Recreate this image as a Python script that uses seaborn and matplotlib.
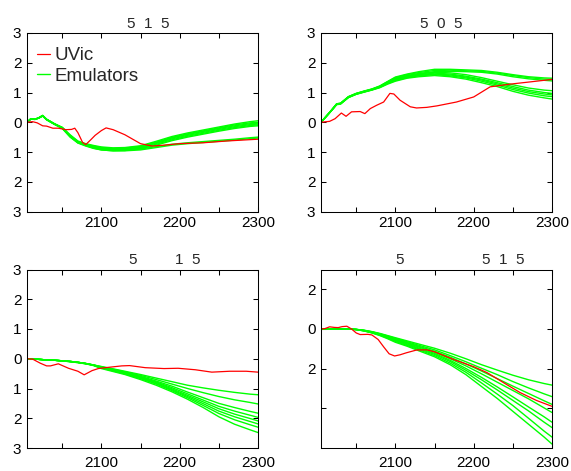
import matplotlib
matplotlib.use("Agg")
import matplotlib.pyplot as plt
import numpy as np
import pandas as pd
import seaborn as sns

# ---------------- data ----------------
YEARS = [2005, 2010, 2015, 2020, 2025, 2030, 2040, 2050, 2060, 2070, 2080, 2090,
         2100, 2115, 2130, 2150, 2170, 2190, 2210, 2230, 2250, 2270, 2290, 2300]

EMU1 = [
    [0, 0.12, 0.1, 0.15, 0.23, 0.1, -0.05, -0.17, -0.42, -0.63, -0.72, -0.78, -0.83, -0.86, -0.85, -0.79, -0.64, -0.48, -0.36, -0.26, -0.16, -0.06, 0.02, 0.05],
    [0, 0.12, 0.1, 0.15, 0.23, 0.1, -0.05, -0.18, -0.44, -0.65, -0.74, -0.8, -0.85, -0.88, -0.87, -0.81, -0.67, -0.51, -0.39, -0.29, -0.19, -0.09, -0.02, 0.0],
    [0, 0.12, 0.1, 0.15, 0.22, 0.1, -0.06, -0.18, -0.46, -0.67, -0.76, -0.82, -0.87, -0.9, -0.89, -0.83, -0.69, -0.53, -0.41, -0.31, -0.21, -0.12, -0.05, -0.03],
    [0, 0.11, 0.1, 0.14, 0.22, 0.09, -0.06, -0.19, -0.47, -0.68, -0.77, -0.84, -0.89, -0.92, -0.91, -0.85, -0.71, -0.56, -0.44, -0.34, -0.24, -0.15, -0.08, -0.06],
    [0, 0.11, 0.1, 0.14, 0.21, 0.09, -0.07, -0.2, -0.48, -0.69, -0.78, -0.86, -0.91, -0.94, -0.93, -0.87, -0.74, -0.59, -0.47, -0.37, -0.27, -0.18, -0.11, -0.09],
    [0, 0.11, 0.09, 0.14, 0.21, 0.08, -0.07, -0.21, -0.5, -0.7, -0.8, -0.88, -0.93, -0.96, -0.95, -0.89, -0.77, -0.62, -0.5, -0.4, -0.3, -0.21, -0.14, -0.12],
    [0, 0.12, 0.1, 0.15, 0.22, 0.1, -0.05, -0.18, -0.45, -0.66, -0.76, -0.84, -0.9, -0.93, -0.93, -0.9, -0.82, -0.74, -0.69, -0.65, -0.61, -0.57, -0.52, -0.5],
    [0, 0.11, 0.1, 0.14, 0.21, 0.09, -0.06, -0.2, -0.47, -0.68, -0.78, -0.87, -0.93, -0.96, -0.96, -0.93, -0.85, -0.77, -0.72, -0.68, -0.64, -0.6, -0.55, -0.53],
]

EMU2 = [
    [0, 0.15, 0.3, 0.46, 0.62, 0.64, 0.86, 0.97, 1.05, 1.12, 1.22, 1.37, 1.52, 1.62, 1.7, 1.78, 1.78, 1.76, 1.74, 1.68, 1.6, 1.53, 1.49, 1.48],
    [0, 0.15, 0.3, 0.46, 0.62, 0.64, 0.86, 0.97, 1.04, 1.11, 1.21, 1.36, 1.5, 1.6, 1.67, 1.74, 1.75, 1.73, 1.71, 1.65, 1.57, 1.5, 1.45, 1.44],
    [0, 0.15, 0.3, 0.45, 0.61, 0.63, 0.85, 0.96, 1.04, 1.11, 1.2, 1.35, 1.48, 1.57, 1.64, 1.7, 1.71, 1.7, 1.68, 1.62, 1.53, 1.46, 1.41, 1.39],
    [0, 0.15, 0.3, 0.45, 0.61, 0.63, 0.85, 0.96, 1.03, 1.1, 1.19, 1.33, 1.46, 1.56, 1.62, 1.68, 1.66, 1.6, 1.5, 1.38, 1.26, 1.15, 1.08, 1.06],
    [0, 0.15, 0.29, 0.45, 0.6, 0.63, 0.84, 0.95, 1.03, 1.1, 1.19, 1.32, 1.44, 1.54, 1.6, 1.65, 1.62, 1.55, 1.45, 1.33, 1.2, 1.08, 1.0, 0.97],
    [0, 0.15, 0.29, 0.44, 0.6, 0.62, 0.84, 0.95, 1.02, 1.09, 1.18, 1.31, 1.42, 1.52, 1.58, 1.62, 1.59, 1.52, 1.42, 1.29, 1.15, 1.03, 0.95, 0.92],
    [0, 0.14, 0.29, 0.44, 0.6, 0.62, 0.83, 0.94, 1.02, 1.09, 1.17, 1.3, 1.4, 1.5, 1.56, 1.6, 1.56, 1.49, 1.38, 1.25, 1.1, 0.98, 0.89, 0.86],
    [0, 0.14, 0.29, 0.44, 0.59, 0.61, 0.83, 0.94, 1.01, 1.08, 1.16, 1.28, 1.38, 1.48, 1.53, 1.57, 1.53, 1.45, 1.33, 1.2, 1.04, 0.91, 0.82, 0.78],
]

EMU3 = [
    [0, 0, -0.01, -0.02, -0.03, -0.04, -0.05, -0.07, -0.09, -0.12, -0.16, -0.21, -0.26, -0.34, -0.42, -0.53, -0.65, -0.77, -0.89, -0.98, -1.06, -1.13, -1.19, -1.21],
    [0, 0, -0.01, -0.02, -0.03, -0.04, -0.05, -0.07, -0.09, -0.12, -0.16, -0.21, -0.27, -0.35, -0.44, -0.56, -0.7, -0.85, -1.0, -1.14, -1.27, -1.38, -1.47, -1.52],
    [0, 0, -0.01, -0.02, -0.03, -0.04, -0.05, -0.07, -0.09, -0.12, -0.16, -0.21, -0.28, -0.37, -0.46, -0.59, -0.75, -0.92, -1.12, -1.31, -1.5, -1.64, -1.77, -1.83],
    [0, 0, -0.01, -0.02, -0.03, -0.04, -0.05, -0.07, -0.09, -0.12, -0.16, -0.21, -0.29, -0.38, -0.47, -0.61, -0.78, -0.97, -1.18, -1.39, -1.6, -1.76, -1.9, -1.97],
    [0, 0, -0.01, -0.02, -0.03, -0.04, -0.05, -0.07, -0.09, -0.12, -0.16, -0.22, -0.3, -0.39, -0.49, -0.63, -0.8, -1.01, -1.23, -1.45, -1.68, -1.86, -2.01, -2.09],
    [0, 0, -0.01, -0.02, -0.03, -0.04, -0.05, -0.07, -0.09, -0.12, -0.16, -0.22, -0.3, -0.4, -0.5, -0.65, -0.83, -1.04, -1.27, -1.51, -1.76, -1.95, -2.11, -2.19],
    [0, 0, -0.01, -0.02, -0.03, -0.04, -0.05, -0.07, -0.1, -0.13, -0.17, -0.22, -0.31, -0.41, -0.51, -0.67, -0.85, -1.07, -1.31, -1.57, -1.84, -2.05, -2.22, -2.3],
    [0, 0, -0.01, -0.02, -0.03, -0.04, -0.05, -0.07, -0.1, -0.13, -0.17, -0.23, -0.33, -0.43, -0.53, -0.7, -0.89, -1.11, -1.36, -1.64, -1.95, -2.2, -2.39, -2.48],
]

EMU4 = [
    [0, 0, 0, 0, 0, 0, 0, -0.02, -0.06, -0.13, -0.22, -0.33, -0.44, -0.6, -0.76, -0.97, -1.22, -1.5, -1.8, -2.07, -2.33, -2.56, -2.75, -2.83],
    [0, 0, 0, 0, 0, 0, 0, -0.02, -0.07, -0.14, -0.24, -0.35, -0.47, -0.64, -0.82, -1.05, -1.34, -1.65, -1.98, -2.3, -2.65, -2.97, -3.27, -3.41],
    [0, 0, 0, 0, 0, 0, 0, -0.02, -0.07, -0.15, -0.25, -0.37, -0.5, -0.68, -0.87, -1.12, -1.42, -1.76, -2.12, -2.5, -2.88, -3.25, -3.62, -3.8],
    [0, 0, 0, 0, 0, 0, 0, -0.02, -0.08, -0.16, -0.26, -0.39, -0.53, -0.71, -0.91, -1.17, -1.5, -1.86, -2.26, -2.68, -3.1, -3.52, -3.98, -4.21],
    [0, 0, 0, 0, 0, 0, 0, -0.03, -0.08, -0.17, -0.28, -0.41, -0.56, -0.75, -0.96, -1.23, -1.58, -1.99, -2.44, -2.92, -3.42, -3.93, -4.43, -4.7],
    [0, 0, 0, 0, 0, 0, 0, -0.03, -0.09, -0.18, -0.29, -0.43, -0.59, -0.79, -1.0, -1.28, -1.64, -2.08, -2.56, -3.07, -3.6, -4.13, -4.7, -4.97],
    [0, 0, 0, 0, 0, 0, 0, -0.03, -0.09, -0.19, -0.31, -0.46, -0.63, -0.83, -1.05, -1.34, -1.72, -2.18, -2.72, -3.28, -3.86, -4.5, -5.15, -5.45],
    [0, 0, 0, 0, 0, 0, 0, -0.03, -0.1, -0.2, -0.33, -0.49, -0.67, -0.87, -1.1, -1.4, -1.8, -2.3, -2.9, -3.5, -4.15, -4.8, -5.45, -5.8],
]

UVIC1_YEARS = [2005, 2012, 2018, 2025, 2030, 2038, 2045, 2055, 2062, 2066, 2070, 2076, 2080, 2086,
               2092, 2100, 2106, 2115, 2130, 2150, 2165, 2180, 2200, 2230, 2260, 2280, 2300]
UVIC1 = [0, 0.02, -0.02, -0.12, -0.13, -0.2, -0.2, -0.25, -0.24, -0.2, -0.35, -0.68, -0.75, -0.6,
         -0.44, -0.28, -0.19, -0.25, -0.42, -0.72, -0.8, -0.77, -0.72, -0.69, -0.63, -0.6, -0.57]

UVIC2_YEARS = [2005, 2016, 2023, 2031, 2037, 2044, 2055, 2061, 2068, 2076, 2085, 2093, 2098, 2106,
               2119, 2127, 2140, 2153, 2178, 2200, 2221, 2246, 2270, 2300]
UVIC2 = [0, 0.03, 0.12, 0.31, 0.2, 0.35, 0.36, 0.29, 0.46, 0.57, 0.68, 0.97, 0.95, 0.74,
         0.52, 0.48, 0.5, 0.55, 0.68, 0.85, 1.19, 1.28, 1.35, 1.44]

UVIC3_YEARS = [2005, 2012, 2022, 2030, 2035, 2045, 2058, 2070, 2078, 2088, 2096, 2105, 2126, 2136,
               2156, 2180, 2198, 2220, 2241, 2264, 2285, 2300]
UVIC3 = [0, -0.01, -0.15, -0.24, -0.24, -0.17, -0.32, -0.42, -0.54, -0.4, -0.33, -0.3, -0.24, -0.23,
         -0.3, -0.33, -0.32, -0.37, -0.45, -0.42, -0.42, -0.45]

UVIC4_YEARS = [2005, 2010, 2016, 2022, 2027, 2032, 2038, 2044, 2050, 2055, 2065, 2070, 2078, 2085,
               2092, 2099, 2106, 2114, 2127, 2140, 2150, 2175, 2200, 2217, 2240, 2259, 2280, 2300]
UVIC4 = [0, 0.02, 0.11, 0.08, 0.07, 0.12, 0.14, 0.0, -0.2, -0.28, -0.27, -0.3, -0.53, -0.9,
         -1.25, -1.36, -1.3, -1.2, -1.06, -1.05, -1.15, -1.55, -1.9, -2.2, -2.75, -3.2, -3.6, -3.9]

XTICKS = [2050, 2100, 2150, 2200, 2250, 2300]
XTICKLABELS = ["", "2100", "", "2200", "", "2300"]
YTICKS_A = [-3, -2, -1, 0, 1, 2, 3]
YTICKLABELS_A = ["3", "2", "1", "0", "1", "2", "3"]
YTICKS_B = [-4, -2, 0, 2]
YTICKLABELS_B = ["", "2", "0", "2"]

TITLES = [
    [("5  1  5", 0.526)],
    [("5  0  5", 0.519)],
    [("5", 0.459), ("1  5", 0.695)],
    [("5", 0.340), ("5  1  5", 0.790)],
]
LEGEND_LABELS = ["UVic", "Emulators"]

RED = "#ff0000"
GREEN = "#00ff00"

# ---------------- plot ----------------
sns.set_style("ticks")
plt.rcParams["font.family"] = ["Liberation Sans", "DejaVu Sans"]
plt.rcParams["font.size"] = 11

fig, axes = plt.subplots(2, 2, figsize=(5.71, 4.71), dpi=100)
fig.subplots_adjust(left=27 / 571, right=552 / 571, top=1 - 33 / 471, bottom=1 - 448 / 471,
                    wspace=63 / 231, hspace=58 / 178.5)

panels = [
    (EMU1, UVIC1_YEARS, UVIC1, (-3, 3), YTICKS_A, YTICKLABELS_A),
    (EMU2, UVIC2_YEARS, UVIC2, (-3, 3), YTICKS_A, YTICKLABELS_A),
    (EMU3, UVIC3_YEARS, UVIC3, (-3, 3), YTICKS_A, YTICKLABELS_A),
    (EMU4, UVIC4_YEARS, UVIC4, (-6, 3), YTICKS_B, YTICKLABELS_B),
]

for i, (ax, (emu, ry, rv, ylim, yt, ytl)) in enumerate(zip(axes.flat, panels)):
    rows = []
    for k, run in enumerate(emu):
        for yr, v in zip(YEARS, run):
            rows.append({"year": yr, "value": v, "run": k})
    df = pd.DataFrame(rows)
    sns.lineplot(data=df, x="year", y="value", units="run", estimator=None,
                 color=GREEN, lw=1.0, ax=ax, legend=False)
    green_handle = ax.lines[0]
    sns.lineplot(x=ry, y=rv, color=RED, lw=0.9, ax=ax, legend=False)
    red_handle = ax.lines[-1]

    ax.set_xlim(2005, 2300)
    ax.set_ylim(*ylim)
    ax.set_xticks(XTICKS)
    ax.set_xticklabels(XTICKLABELS)
    ax.set_yticks(yt)
    ax.set_yticklabels(ytl)
    ax.set_xlabel("")
    ax.set_ylabel("")
    for s in ax.spines.values():
        s.set_visible(True)
        s.set_linewidth(0.75)
        s.set_color("black")
    ax.tick_params(direction="in", length=3.5, width=0.75, top=True, right=True,
                   labelsize=11, pad=4, colors="black")
    if i < 2:
        ax.tick_params(axis="x", pad=3)
    else:
        ax.tick_params(axis="x", pad=6)

    for txt, xf in TITLES[i]:
        ax.text(xf, 1.03, txt, transform=ax.transAxes, ha="center", va="baseline",
                fontsize=11)

    if i == 0:
        ax.legend([red_handle, green_handle], LEGEND_LABELS, loc="upper left",
                  bbox_to_anchor=(10 / 231, 1 - 14 / 178), frameon=False, fontsize=13.5,
                  handlelength=0.7, handletextpad=0.22, labelspacing=0.2,
                  borderaxespad=0, borderpad=0)

fig.savefig("out.png", dpi=100)
